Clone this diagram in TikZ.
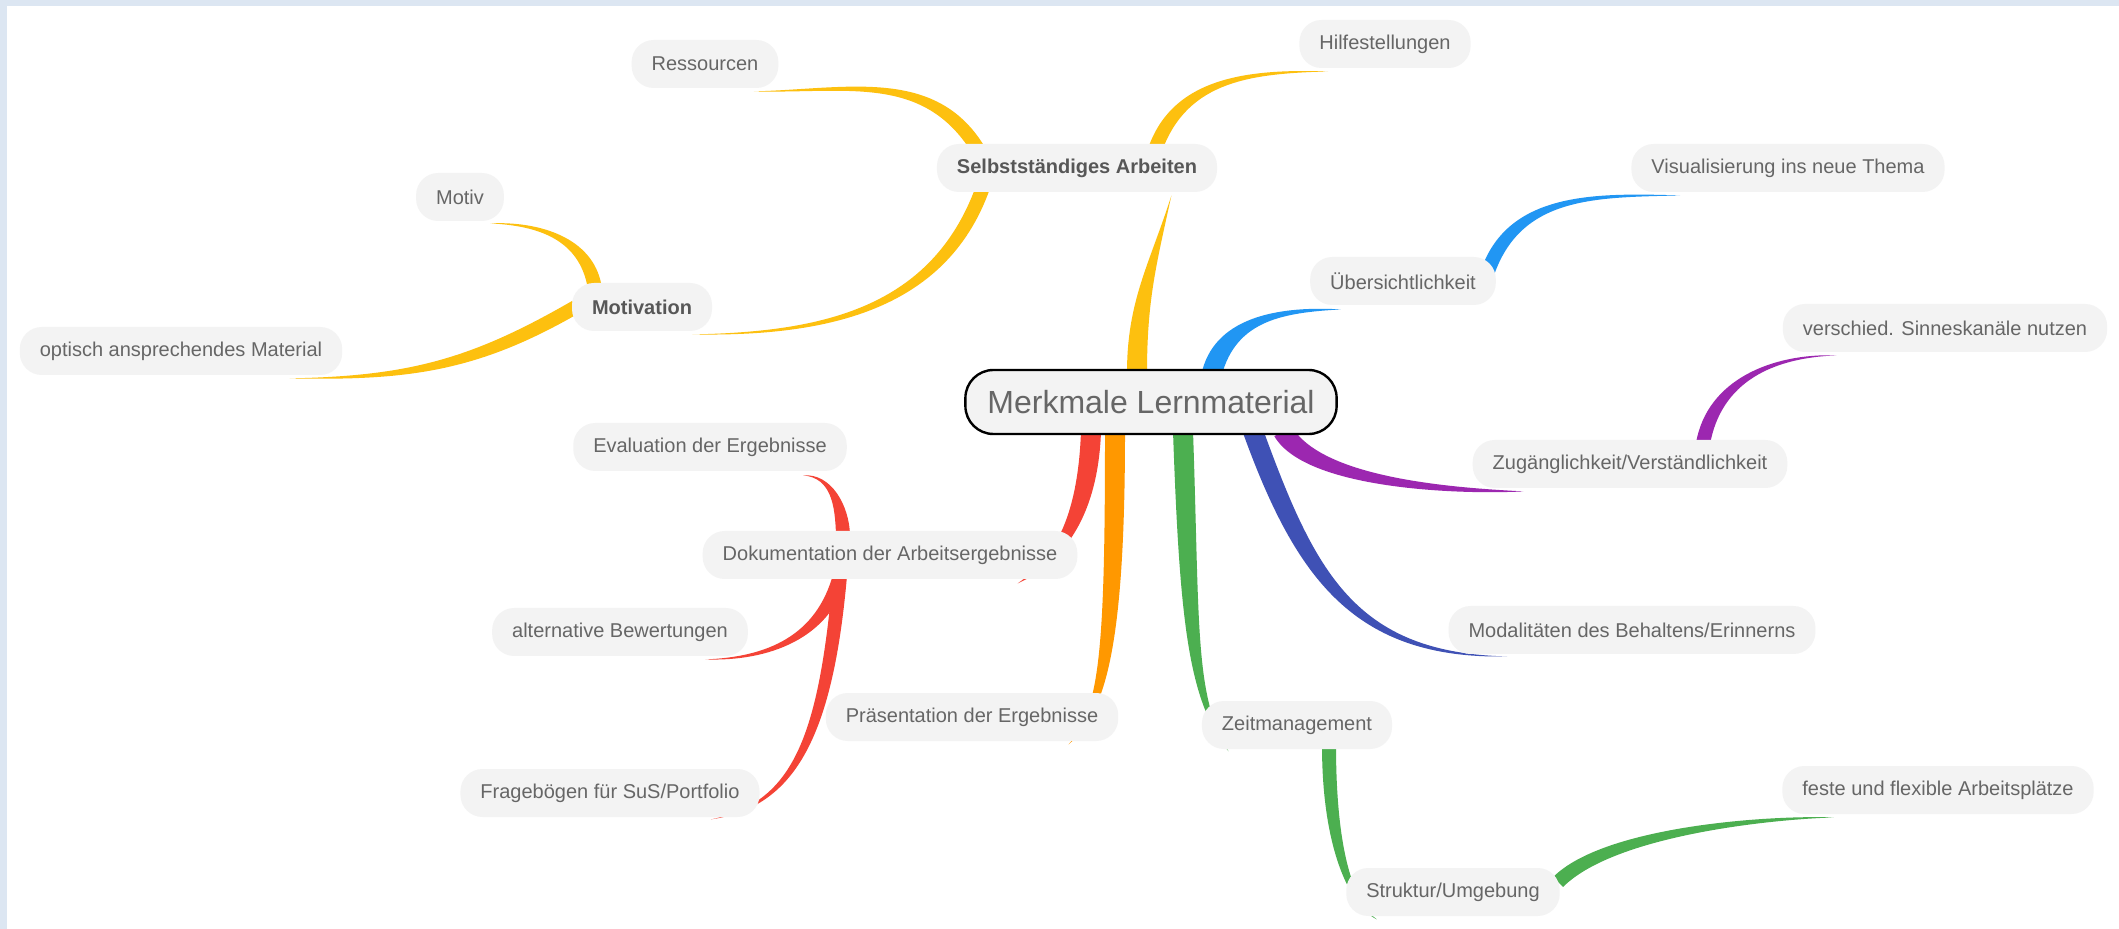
\documentclass[tikz,border=0pt]{standalone}
\usepackage{fontspec}
\setmainfont{Liberation Sans}
\usetikzlibrary{calc,backgrounds}

\definecolor{yel}{HTML}{FDC00F}
\definecolor{blu}{HTML}{2196F3}
\definecolor{pur}{HTML}{9C27B0}
\definecolor{ind}{HTML}{3F51B5}
\definecolor{grn}{HTML}{4CAF50}
\definecolor{rd}{HTML}{F44336}
\definecolor{org}{HTML}{FF9800}
\definecolor{pill}{HTML}{F3F3F3}
\definecolor{txt}{HTML}{666666}
\definecolor{frame}{HTML}{DCE6F2}

\tikzset{
  leaf/.style={fill=pill, text=txt, rounded corners=11pt, inner xsep=10pt,
    minimum height=24pt, font=\fontsize{10}{12}\selectfont},
  topic/.style={leaf, text=txt!85!black, font=\fontsize{10}{12}\selectfont\bfseries},
  root/.style={draw=black, line width=1.2pt, fill=pill, text=txt, rounded corners=14pt,
    inner xsep=11pt, minimum height=32pt, font=\fontsize{16}{19}\selectfont}
}

% tapered branch: [bend at start][bend at end], colour, thick end, thin end, out, in, half width
\NewDocumentCommand{\twig}{O{0.4} O{0.4} m m m m m m}{%
  \coordinate (tA) at #4;
  \coordinate (tB) at #5;
  \fill[#3] let \p1=(tA), \p2=(tB), \n1={#1*veclen(\x2-\x1,\y2-\y1)},
      \n3={#2*veclen(\x2-\x1,\y2-\y1)}, \n2={#8/3} in
    ($(\p1)+(#6+90:#8)$) .. controls ($(\p1)+(#6:\n1)+(#6+90:#8)$) and ($(\p2)+(#7:\n3)+(#7-90:\n2)$) .. (\p2)
    .. controls ($(\p2)+(#7:\n3)+(#7+90:\n2)$) and ($(\p1)+(#6:\n1)+(#6-90:#8)$) .. ($(\p1)+(#6-90:#8)$) -- cycle;}

\begin{document}
\begin{tikzpicture}[x=0.5pt,y=-0.5pt]
\useasboundingbox (0,0) rectangle (2119,929);
\begin{scope}[on background layer]
\fill[white] (0,0) rectangle (2119,929);
\fill[frame] (0,0) rectangle (2119,6);
\fill[frame] (0,0) rectangle (7,929);
\end{scope}

\node[root] (cen) at (1151,402) {Merkmale Lernmaterial};
\node[topic] (sa) at (1077,168) {Selbstständiges Arbeiten};
\node[leaf] (res) at (705,64) {Ressourcen};
\node[leaf] (hil) at (1385,44) {Hilfestellungen};
\node[topic] (mot) at (642,307) {Motivation};
\node[leaf] (mtv) at (460,197) {Motiv};
\node[leaf] (opt) at (181,351) {optisch ansprechendes Material};
\node[leaf] (ueb) at (1403,281) {Übersichtlichkeit};
\node[leaf] (vis) at (1788,168) {Visualisierung ins neue Thema};
\node[leaf] (zug) at (1630,464) {Zugänglichkeit/Verständlichkeit};
\node[leaf] (ver) at (1945,328) {verschied. Sinneskanäle nutzen};
\node[leaf] (mod) at (1632,630) {Modalitäten des Behaltens/Erinnerns};
\node[leaf] (zeit) at (1297,725) {Zeitmanagement};
\node[leaf] (str) at (1453,892) {Struktur/Umgebung};
\node[leaf] (fes) at (1938,790) {feste und flexible Arbeitsplätze};
\node[leaf] (eva) at (710,447) {Evaluation der Ergebnisse};
\node[leaf] (dok) at (890,555) {Dokumentation der Arbeitsergebnisse};
\node[leaf] (alt) at (620,632) {alternative Bewertungen};
\node[leaf] (fra) at (610,793) {Fragebögen für SuS/Portfolio};
\node[leaf] (pra) at (972,717) {Präsentation der Ergebnisse};

\begin{scope}[on background layer]
\twig{yel}{($(cen.north)+(-14,4)$)}{($(sa.south east)+(-46,3)$)}{90}{255}{5pt}
\twig{yel}{($(sa.north west)+(41,5)$)}{($(res.south east)+(-25,3)$)}{122}{0}{3.5pt}
\twig{yel}{($(sa.north east)+(-62,5)$)}{($(hil.south west)+(29,3)$)}{70}{180}{3.5pt}
\twig{yel}{($(sa.south west)+(46,-4)$)}{($(mot.south east)+(-20,3)$)}{250}{0}{3.5pt}
\twig{yel}{($(mot.north west)+(23,4)$)}{($(mtv.south east)+(-14,2)$)}{100}{0}{3.5pt}
\twig{yel}{($(mot.west)+(4,0)$)}{($(opt.south east)+(-53,3)$)}{210}{0}{3.5pt}
\twig{blu}{($(cen.north)+(61,4)$)}{($(ueb.south west)+(31,4)$)}{75}{180}{5pt}
\twig{blu}{($(ueb.north east)+(-8,14)$)}{($(vis.south west)+(49,3)$)}{70}{180}{3.5pt}
\twig[0.25][0.25]{pur}{($(cen.south)+(132,-4)$)}{($(zug.south west)+(51,3)$)}{300}{180}{5pt}
\twig{pur}{($(zug.north)+(73,4)$)}{($(ver.south west)+(54,3)$)}{80}{180}{3.5pt}
\twig[0.45][0.45]{ind}{($(cen.south)+(102,-4)$)}{($(mod.south west)+(59,2)$)}{290}{180}{5pt}
\twig[0.6][0.2]{grn}{($(cen.south)+(32,-4)$)}{($(zeit.south west)+(27,2)$)}{272}{125}{5pt}
\twig[0.6][0.15]{grn}{($(zeit.south)+(32,-4)$)}{($(str.south west)+(31,3)$)}{270}{150}{3.5pt}
\twig[0.25][0.25]{grn}{($(str.east)+(-2,-10)$)}{($(fes.south west)+(52,3)$)}{45}{180}{3.5pt}
\twig[0.7][0.15]{org}{($(cen.south)+(-36,-4)$)}{($(pra.south east)+(-50,3)$)}{270}{45}{5pt}
\twig[0.6][0.2]{rd}{($(cen.south)+(-60,-4)$)}{($(dok.south east)+(-60,4)$)}{268}{30}{5pt}
\twig{rd}{($(dok.north)+(-47,4)$)}{($(eva.south east)+(-44,4)$)}{92}{0}{3.5pt}
\twig{rd}{($(dok.south)+(-50,-4)$)}{($(alt.south east)+(-43,3)$)}{255}{0}{3.5pt}
\twig[0.6][0.3]{rd}{($(dok.south)+(-50,-4)$)}{($(fra.south east)+(-49,2)$)}{265}{10}{3.5pt}
\end{scope}
\end{tikzpicture}
\end{document}
